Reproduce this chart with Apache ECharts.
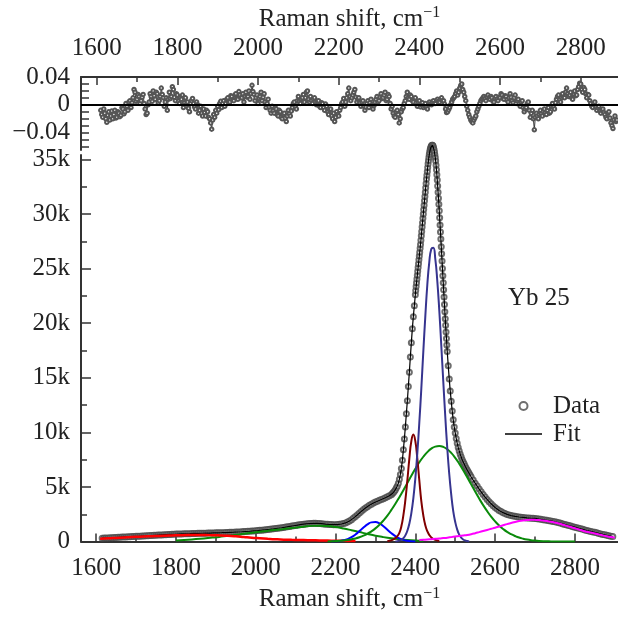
<!DOCTYPE html>
<html><head><meta charset="utf-8">
<script src="https://cdn.jsdelivr.net/npm/echarts@6/dist/echarts.min.js"></script>
<style>html,body{margin:0;padding:0;background:#fff}#c{width:618px;height:617px}</style>
</head><body><div id="c"></div>
<script>
// ---------- measured data (intensity in thousands of counts) ----------
const dataX = [
1615,1620,1625,1630,1635,1640,1645,1650,1655,1660,
1665,1670,1675,1680,1685,1690,1695,1700,1705,1710,
1715,1720,1725,1730,1735,1740,1745,1750,1755,1760,
1765,1770,1775,1780,1785,1790,1795,1800,1805,1810,
1815,1820,1825,1830,1835,1840,1845,1850,1855,1860,
1865,1870,1875,1880,1885,1890,1895,1900,1905,1910,
1915,1920,1925,1930,1935,1940,1945,1950,1955,1960,
1965,1970,1975,1980,1985,1990,1995,2000,2005,2010,
2015,2020,2025,2030,2035,2040,2045,2050,2055,2060,
2065,2070,2075,2080,2085,2090,2095,2100,2105,2110,
2115,2120,2125,2130,2135,2140,2145,2150,2155,2160,
2165,2170,2175,2180,2185,2190,2195,2200,2205,2210,
2215,2220,2225,2230,2235,2240,2245,2250,2255,2260,
2265,2270,2275,2280,2285,2290,2295,2300,2305,2310,
2315,2320,2325,2330,2335,2340,
2342.5,2345,2347.5,2350,2352.5,2355,2357.5,2360,2362.5,2365,2367.5,2370,2372.5,2375,2377.5,2380,2382.5,2385,2387.5,2390,2392.5,2395,2397.5,
2400,2401,2402,2403,2404,2405,2406,2407,2408,2409,
2410,2411,2412,2413,2414,2415,2416,2417,2418,2419,
2420,2421,2422,2423,2424,2425,2426,2427,2428,2429,
2430,2431,2432,2433,2434,2435,2436,2437,2438,2439,
2440,2441,2442,2443,2444,2445,2446,2447,2448,2449,
2450,2451,2452,2453,2454,2455,2456,2457,2458,2459,
2460,2461,2462,2463,2464,2465,2466,2467,2468,2469,
2470,2471,2472,2473,2474,2475,2476,2477,2478,2479,
2480,
2482.5,2485,2487.5,2490,2492.5,2495,2497.5,2500,2502.5,2505,2507.5,2510,2512.5,2515,2517.5,2520,2522.5,2525,2527.5,2530,2532.5,2535,2537.5,2540,
2545,2550,2555,2560,2565,2570,2575,2580,2585,2590,
2595,2600,2605,2610,2615,2620,2625,2630,2635,2640,
2645,2650,2655,2660,2665,2670,2675,2680,2685,2690,
2695,2700,2705,2710,2715,2720,2725,2730,2735,2740,
2745,2750,2755,2760,2765,2770,2775,2780,2785,2790,
2795,2800,2805,2810,2815,2820,2825,2830,2835,2840,
2845,2850,2855,2860,2865,2870,2875,2880,2885,2890,
2895];
const dataY = [
0.31,0.32,0.33,0.34,0.35,0.36,0.37,0.38,0.39,0.40,
0.41,0.42,0.43,0.44,0.45,0.46,0.47,0.48,0.49,0.50,
0.51,0.52,0.53,0.545,0.555,0.565,0.575,0.585,0.595,0.605,
0.615,0.625,0.635,0.645,0.655,0.665,0.675,0.685,0.69,0.70,
0.705,0.71,0.72,0.725,0.73,0.74,0.745,0.75,0.755,0.76,
0.765,0.77,0.775,0.78,0.785,0.79,0.795,0.80,0.805,0.81,
0.815,0.82,0.83,0.835,0.845,0.85,0.86,0.87,0.88,0.89,
0.90,0.915,0.925,0.94,0.95,0.965,0.98,0.995,1.01,1.03,
1.045,1.065,1.085,1.105,1.125,1.15,1.17,1.195,1.22,1.245,
1.27,1.30,1.33,1.36,1.39,1.42,1.45,1.48,1.51,1.54,
1.57,1.60,1.62,1.64,1.655,1.665,1.67,1.67,1.665,1.655,
1.64,1.62,1.60,1.58,1.565,1.555,1.55,1.55,1.56,1.58,
1.61,1.65,1.71,1.79,1.89,2.01,2.15,2.30,2.46,2.62,
2.78,2.93,3.07,3.20,3.32,3.43,3.53,3.62,3.70,3.78,
3.85,3.93,4.01,4.10,4.20,4.30,
4.4,4.5,4.62,4.75,4.92,5.1,5.35,5.7,6.15,6.7,7.45,8.4,9.4,10.5,11.7,12.9,14.2,15.5,16.9,18.2,19.5,20.6,21.6,
22.6,23.0,23.35,23.7,24.05,24.4,24.75,25.1,25.45,25.8,
26.15,26.5,26.85,27.2,27.6,28.0,28.4,28.8,29.2,29.6,
30.0,30.4,30.8,31.2,31.6,32.0,32.4,32.8,33.2,33.55,
33.9,34.25,34.6,34.9,35.2,35.45,35.65,35.85,36.0,36.1,
36.2,36.27,36.3,36.3,36.25,36.15,36.0,35.85,35.65,35.4,
35.15,34.85,34.45,34.05,33.6,33.1,32.55,32.0,31.45,30.9,
30.3,29.65,29.0,28.35,27.7,27.0,26.35,25.7,25.0,24.35,
23.7,23.05,22.4,21.7,21.05,20.4,19.8,19.2,18.6,18.0,
17.4,
16.1,14.9,13.8,12.85,11.95,11.15,10.5,9.95,9.45,9.0,8.62,8.3,8.0,7.75,7.5,7.3,7.1,6.9,6.72,6.56,6.4,6.24,6.08,5.92,
5.63,5.35,5.08,4.81,4.56,4.31,4.08,3.86,3.66,3.46,
3.29,3.12,2.98,2.85,2.75,2.65,2.57,2.49,2.43,2.38,
2.34,2.31,2.28,2.25,2.23,2.21,2.19,2.17,2.15,2.14,
2.13,2.12,2.10,2.07,2.04,2.01,1.98,1.95,1.92,1.89,
1.85,1.81,1.77,1.72,1.67,1.62,1.57,1.52,1.47,1.42,
1.37,1.32,1.27,1.22,1.17,1.12,1.07,1.02,0.97,0.93,
0.89,0.85,0.80,0.75,0.70,0.66,0.62,0.58,0.54,0.50,
0.47];

// ---------- fit components ----------
const redX = [1610,1630,1650,1670,1690,1710,1730,1750,1770,1790,1810,1830,1850,1870,1890,1910,1930,1950,1970,1990,2010,2030,2050,2070,2090,2110,2130,2150,2170,2190,2210,2230,2250];
const redY = [0.27,0.30,0.34,0.38,0.42,0.45,0.48,0.51,0.54,0.56,0.58,0.595,0.60,0.60,0.59,0.565,0.53,0.48,0.42,0.36,0.31,0.26,0.215,0.18,0.16,0.145,0.13,0.115,0.10,0.085,0.075,0.065,0.055];
const greenAX = [1800,1820,1840,1860,1880,1900,1920,1940,1960,1980,2000,2020,2040,2060,2080,2100,2120,2140,2160,2180,2200,2220,2240,2260,2280,2300,2320,2340,2360,2380,2400,2420];
const greenAY = [0.10,0.14,0.19,0.25,0.32,0.40,0.48,0.57,0.66,0.76,0.85,0.94,1.03,1.11,1.19,1.28,1.37,1.44,1.46,1.42,1.33,1.20,1.04,0.87,0.70,0.54,0.41,0.30,0.21,0.14,0.09,0.06];
const blueX = [2190,2200,2210,2220,2230,2240,2250,2260,2270,2280,2290,2300,2310,2320,2330,2340,2350,2360,2370,2380,2390,2400];
const blueY = [0.01,0.024,0.056,0.118,0.229,0.405,0.653,0.96,1.29,1.58,1.76,1.79,1.67,1.41,1.09,0.77,0.50,0.29,0.156,0.076,0.034,0.014];
const darkRedX = [2330,2335,2340,2345,2350,2355,2360,2365,2370,2375,2380,2385,2390,2395,2400,2405,2410,2415,2420,2425,2430,2435,2440,2445,2450,2455,2460];
const darkRedY = [0.05,0.08,0.12,0.2,0.32,0.5,0.8,1.4,2.4,3.8,5.6,7.6,9.2,9.8,9.2,7.6,5.6,3.7,2.4,1.5,0.95,0.6,0.38,0.25,0.16,0.1,0.06];
const navyX = [2350,2355,2360,2365,2370,2375,2380,2385,2390,2395,2400,2405,2410,2415,2420,2425,2430,2435,2440,2445,2450,2455,2460,2465,2470,2475,2480,2485,2490,2495,2500,2505,2510,2515,2520,2525,2530,2535];
const navyY = [0.02,0.04,0.09,0.17,0.32,0.57,0.99,1.64,2.6,3.96,5.78,8.1,10.9,14.0,17.4,20.6,23.5,25.6,26.8,26.9,25.9,23.9,21.2,18.0,14.7,11.5,8.6,6.2,4.3,2.8,1.8,1.1,0.64,0.36,0.19,0.1,0.05,0.02];
const greenBX = [2180,2190,2200,2210,2220,2230,2240,2250,2260,2270,2280,2290,2300,2310,2320,2330,2340,2350,2360,2370,2380,2390,2400,2410,2420,2430,2440,2450,2460,2470,2480,2490,2500,2510,2520,2530,2540,2550,2560,2570,2580,2590,2600,2610,2620,2630,2640,2650,2660,2670,2680,2690,2700,2710,2720,2730,2740,2750,2760,2770,2780,2790,2800];
const greenBY = [0.02,0.03,0.05,0.07,0.10,0.145,0.21,0.29,0.40,0.54,0.72,0.94,1.21,1.54,1.93,2.38,2.90,3.46,4.07,4.71,5.37,6.03,6.67,7.26,7.77,8.19,8.51,8.70,8.75,8.67,8.45,8.12,7.67,7.14,6.54,5.90,5.24,4.58,3.94,3.34,2.79,2.29,1.85,1.47,1.16,0.89,0.68,0.51,0.37,0.27,0.19,0.13,0.09,0.06,0.04,0.03,0.02,0.01,0.01,0.01,0,0,0];
const magentaX = [2410,2420,2430,2440,2450,2460,2470,2480,2490,2500,2510,2520,2530,2540,2550,2560,2570,2580,2590,2600,2610,2620,2630,2640,2650,2660,2670,2680,2690,2700,2710,2720,2730,2740,2750,2760,2770,2780,2790,2800,2810,2820,2830,2840,2850,2860,2870,2880,2890,2900];
const magentaY = [0.15,0.17,0.19,0.22,0.25,0.28,0.32,0.36,0.41,0.46,0.51,0.56,0.61,0.68,0.77,0.87,0.97,1.07,1.17,1.27,1.38,1.49,1.6,1.7,1.8,1.88,1.94,1.98,2.0,1.99,1.97,1.93,1.88,1.82,1.74,1.65,1.55,1.44,1.33,1.22,1.11,1.0,0.91,0.83,0.75,0.66,0.57,0.49,0.42,0.36];

// ---------- residuals ----------
const resX = [
1610,1612.5,1615,1617.5,1620,1622.5,1625,1627.5,1630,1632.5,1635,1637.5,1640,1642.5,1645,1647.5,1650,1652.5,1655,1657.5,
1660,1662.5,1665,1667.5,1670,1672.5,1675,1677.5,1680,1682.5,1685,1687.5,1690,1692.5,1695,1697.5,1700,1702.5,1705,1707.5,
1710,1712.5,1715,1717.5,1720,1722.5,1725,1727.5,1730,1732.5,1735,1737.5,1740,1742.5,1745,1747.5,1750,1752.5,1755,1757.5,
1760,1762.5,1765,1767.5,1770,1772.5,1775,1777.5,1780,1782.5,1785,1787.5,1790,1792.5,1795,1797.5,1800,1802.5,1805,1807.5,
1810,1812.5,1815,1817.5,1820,1822.5,1825,1827.5,1830,1832.5,1835,1837.5,1840,1842.5,1845,1847.5,1850,1852.5,1855,1857.5,
1860,1862.5,1865,1867.5,1870,1872.5,1875,1877.5,1880,1882.5,1885,1887.5,1890,1892.5,1895,1897.5,1900,1902.5,1905,1907.5,
1910,1912.5,1915,1917.5,1920,1922.5,1925,1927.5,1930,1932.5,1935,1937.5,1940,1942.5,1945,1947.5,1950,1952.5,1955,1957.5,
1960,1962.5,1965,1967.5,1970,1972.5,1975,1977.5,1980,1982.5,1985,1987.5,1990,1992.5,1995,1997.5,2000,2002.5,2005,2007.5,
2010,2012.5,2015,2017.5,2020,2022.5,2025,2027.5,2030,2032.5,2035,2037.5,2040,2042.5,2045,2047.5,2050,2052.5,2055,2057.5,
2060,2062.5,2065,2067.5,2070,2072.5,2075,2077.5,2080,2082.5,2085,2087.5,2090,2092.5,2095,2097.5,2100,2102.5,2105,2107.5,
2110,2112.5,2115,2117.5,2120,2122.5,2125,2127.5,2130,2132.5,2135,2137.5,2140,2142.5,2145,2147.5,2150,2152.5,2155,2157.5,
2160,2162.5,2165,2167.5,2170,2172.5,2175,2177.5,2180,2182.5,2185,2187.5,2190,2192.5,2195,2197.5,2200,2202.5,2205,2207.5,
2210,2212.5,2215,2217.5,2220,2222.5,2225,2227.5,2230,2232.5,2235,2237.5,2240,2242.5,2245,2247.5,2250,2252.5,2255,2257.5,
2260,2262.5,2265,2267.5,2270,2272.5,2275,2277.5,2280,2282.5,2285,2287.5,2290,2292.5,2295,2297.5,2300,2302.5,2305,2307.5,
2310,2312.5,2315,2317.5,2320,2322.5,2325,2327.5,2330,2332.5,2335,2337.5,2340,2342.5,2345,2347.5,2350,2352.5,2355,2357.5,
2360,2362.5,2365,2367.5,2370,2372.5,2375,2377.5,2380,2382.5,2385,2387.5,2390,2392.5,2395,2397.5,2400,2402.5,2405,2407.5,
2410,2412.5,2415,2417.5,2420,2422.5,2425,2427.5,2430,2432.5,2435,2437.5,2440,2442.5,2445,2447.5,2450,2452.5,2455,2457.5,
2460,2462.5,2465,2467.5,2470,2472.5,2475,2477.5,2480,2482.5,2485,2487.5,2490,2492.5,2495,2497.5,2500,2502.5,2505,2507.5,
2510,2512.5,2515,2517.5,2520,2522.5,2525,2527.5,2530,2532.5,2535,2537.5,2540,2542.5,2545,2547.5,2550,2552.5,2555,2557.5,
2560,2562.5,2565,2567.5,2570,2572.5,2575,2577.5,2580,2582.5,2585,2587.5,2590,2592.5,2595,2597.5,2600,2602.5,2605,2607.5,
2610,2612.5,2615,2617.5,2620,2622.5,2625,2627.5,2630,2632.5,2635,2637.5,2640,2642.5,2645,2647.5,2650,2652.5,2655,2657.5,
2660,2662.5,2665,2667.5,2670,2672.5,2675,2677.5,2680,2682.5,2685,2687.5,2690,2692.5,2695,2697.5,2700,2702.5,2705,2707.5,
2710,2712.5,2715,2717.5,2720,2722.5,2725,2727.5,2730,2732.5,2735,2737.5,2740,2742.5,2745,2747.5,2750,2752.5,2755,2757.5,
2760,2762.5,2765,2767.5,2770,2772.5,2775,2777.5,2780,2782.5,2785,2787.5,2790,2792.5,2795,2797.5,2800,2802.5,2805,2807.5,
2810,2812.5,2815,2817.5,2820,2822.5,2825,2827.5,2830,2832.5,2835,2837.5,2840,2842.5,2845,2847.5,2850,2852.5,2855,2857.5,
2860,2862.5,2865,2867.5,2870,2872.5,2875,2877.5,2880,2882.5,2885,2887.5,2890];
const resY = [
-0.008,-0.014,-0.018,-0.006,-0.012,-0.020,-0.025,-0.015,-0.010,-0.022,-0.016,-0.009,-0.020,-0.014,-0.008,-0.019,-0.018,-0.010,-0.012,-0.017,
-0.015,-0.004,-0.006,-0.013,-0.010,0.002,-0.002,-0.008,0.004,0.006,-0.004,0.003,0.010,0.022,0.018,0.005,0.008,0.015,0.012,0.002,
0.006,0.011,0.015,0.002,-0.006,-0.014,-0.012,0.000,0.004,0.016,0.012,0.005,0.020,0.013,0.008,0.018,0.016,0.003,0.006,0.012,
0.024,0.015,0.010,-0.002,0.004,0.010,-0.008,0.008,0.018,0.009,0.012,0.026,0.022,0.011,0.006,0.016,0.014,0.005,0.002,0.010,
0.008,0.014,-0.004,0.003,0.010,0.001,0.004,-0.005,-0.010,0.002,0.006,0.009,0.002,-0.003,-0.006,0.004,0.000,-0.012,-0.008,-0.002,
-0.012,-0.016,-0.006,-0.011,-0.016,-0.008,-0.010,-0.018,-0.020,-0.026,-0.035,-0.022,-0.014,-0.018,-0.008,-0.012,-0.002,-0.007,0.002,0.005,
-0.004,0.002,0.006,-0.002,0.002,0.008,0.010,0.003,0.004,0.013,0.012,0.007,0.006,0.014,0.016,0.009,0.008,0.019,0.014,0.010,
0.010,0.016,0.004,0.012,0.018,0.011,0.012,0.020,0.008,0.016,0.028,0.019,0.015,0.006,0.010,0.014,0.002,0.009,0.012,0.018,
0.006,0.011,0.016,0.004,-0.004,0.002,0.008,-0.003,-0.008,-0.012,-0.002,-0.009,-0.012,-0.004,-0.006,-0.014,-0.016,-0.008,-0.010,-0.018,
-0.020,-0.014,-0.012,-0.019,-0.024,-0.016,-0.008,-0.013,-0.016,-0.009,-0.004,0.002,0.004,-0.003,-0.006,0.006,0.012,0.005,0.002,0.008,
0.010,0.015,0.004,0.010,0.018,0.020,0.008,0.004,0.012,0.006,0.002,0.008,0.010,0.004,0.000,0.005,0.006,-0.002,-0.004,0.003,
0.002,-0.004,-0.008,0.001,-0.002,-0.010,-0.014,-0.008,-0.006,-0.016,-0.020,-0.012,-0.024,-0.018,-0.010,-0.014,-0.016,-0.008,-0.004,0.002,
0.004,0.009,-0.002,0.004,0.010,0.016,0.024,0.012,0.006,0.010,0.014,0.018,0.022,0.011,0.004,0.008,0.010,0.003,-0.002,0.004,
0.006,-0.002,-0.008,-0.003,0.002,0.006,-0.004,0.003,0.008,0.000,-0.006,-0.001,0.004,0.008,0.012,0.004,0.006,0.011,0.016,0.009,
0.010,0.014,0.018,0.006,0.008,0.015,0.012,0.002,-0.006,-0.002,-0.012,-0.016,-0.018,-0.010,-0.008,-0.014,-0.026,-0.020,-0.010,-0.006,
-0.004,0.002,0.006,0.012,0.018,0.010,0.008,0.014,0.012,0.006,0.004,0.009,0.010,0.003,-0.002,0.004,0.006,-0.003,0.000,0.003,
-0.004,-0.001,0.002,-0.003,-0.006,0.000,0.004,0.001,0.000,0.004,0.006,0.002,0.002,0.006,0.008,0.005,0.004,0.008,0.010,0.006,
0.006,0.001,-0.006,-0.011,-0.010,-0.007,-0.004,0.000,0.004,0.008,0.010,0.012,0.016,0.020,0.014,0.018,0.024,0.028,0.030,0.022,
0.018,0.012,0.006,-0.002,-0.008,-0.014,-0.018,-0.022,-0.024,-0.026,-0.022,-0.019,-0.016,-0.010,-0.006,-0.002,0.002,0.006,0.008,0.010,
0.012,0.009,0.006,0.011,0.014,0.010,0.008,0.012,0.010,0.005,0.004,0.009,0.012,0.008,0.006,0.011,0.010,0.016,0.014,0.009,
0.008,0.013,0.012,0.007,0.004,0.010,0.016,0.011,0.006,0.003,0.010,0.014,0.002,0.006,0.008,0.001,-0.002,0.004,0.006,-0.004,
-0.010,-0.006,-0.004,0.002,0.004,-0.008,-0.018,-0.012,-0.008,-0.020,-0.036,-0.018,-0.012,-0.016,-0.020,-0.014,-0.008,-0.013,-0.016,-0.010,
-0.006,-0.011,-0.014,-0.008,-0.004,-0.012,-0.010,-0.002,0.002,-0.003,-0.006,0.003,0.008,0.012,0.014,0.008,0.004,0.010,0.016,0.011,
0.010,0.018,0.024,0.016,0.012,0.014,0.018,0.010,0.008,0.015,0.020,0.013,0.014,0.022,0.026,0.031,0.030,0.022,0.018,0.025,
0.022,0.016,0.010,0.015,0.014,0.006,0.002,-0.002,-0.004,0.001,0.004,-0.003,-0.008,-0.004,-0.002,-0.009,-0.012,-0.008,-0.006,-0.011,
-0.014,-0.018,-0.020,-0.012,-0.010,-0.019,-0.026,-0.030,-0.034,-0.022,-0.016,-0.024,-0.022];

// ---------- ticks ----------
const xMajorTicks = [1600,1800,2000,2200,2400,2600,2800];
const xMinorTicks = [1700,1900,2100,2300,2500,2700];
const yMainMajor = [0,5,10,15,20,25,30,35];
const yMainMinor = [2.5,7.5,12.5,17.5,22.5,27.5,32.5];
const yResTicks = [-0.06,-0.05,-0.04,-0.03,-0.02,-0.01,0,0.01,0.02,0.03,0.04];
const yResLabels = [-0.04,0,0.04];

const FONT = 'Liberation Serif';
const FS = 25;
const TXT = '#222';
const AX = '#333';
const zip = (xs, ys) => xs.map((x, i) => [x, ys[i]]);

const axisName = '{a|Raman shift, cm}{s|\u22121}';
const nameRich = {
  a: {fontFamily: FONT, fontSize: FS, color: TXT, lineHeight: 28},
  s: {fontFamily: FONT, fontSize: 16, color: TXT, lineHeight: 16, verticalAlign: 'top'}
};

function xAxisMajor(grid, pos, min, max, margin, nameGap) {
  return {
    type: 'value', gridIndex: grid, position: pos, min: min, max: max,
    axisLine: {show: true, onZero: false, lineStyle: {color: AX, width: 2}},
    axisTick: {show: true, inside: true, length: 8, customValues: xMajorTicks, lineStyle: {color: AX, width: 1.5}},
    axisLabel: {show: true, customValues: xMajorTicks, margin: margin, fontFamily: FONT, fontSize: FS, color: TXT,
      formatter: v => String(v)},
    splitLine: {show: false},
    name: axisName, nameLocation: 'middle', nameGap: nameGap,
    nameTextStyle: {rich: nameRich}
  };
}
function xAxisMinor(grid, pos, min, max) {
  return {
    type: 'value', gridIndex: grid, position: pos, min: min, max: max,
    axisLine: {show: false, onZero: false},
    axisTick: {show: true, inside: true, length: 5, customValues: xMinorTicks, lineStyle: {color: AX, width: 1.5}},
    axisLabel: {show: false}, splitLine: {show: false}
  };
}

const option = {
  animation: false,
  backgroundColor: '#fff',
  grid: [
    {left: 81, right: 0, top: 77, height: 73},
    {left: 81, right: 0, top: 155, bottom: 68}
  ],
  xAxis: [
    xAxisMajor(0, 'top', 1561, 2892.5, 16, 44),
    xAxisMinor(0, 'top', 1561, 2892.5),
    xAxisMajor(1, 'bottom', 1562, 2908, 14, 43),
    xAxisMinor(1, 'bottom', 1562, 2908)
  ],
  yAxis: [
    {
      type: 'value', gridIndex: 0, min: -0.065, max: 0.04, position: 'left',
      axisLine: {show: true, onZero: false, lineStyle: {color: AX, width: 2}},
      axisTick: {show: true, inside: true, length: 8, customValues: yResTicks, lineStyle: {color: AX, width: 1.5}},
      axisLabel: {show: true, customValues: yResLabels, margin: 11, fontFamily: FONT, fontSize: FS, color: TXT,
        formatter: v => v === 0 ? '0' : (v < 0 ? '\u2212' : '') + Math.abs(v).toFixed(2)},
      splitLine: {show: false}
    },
    {
      type: 'value', gridIndex: 1, min: 0, max: 35.4, position: 'left',
      axisLine: {show: true, onZero: false, lineStyle: {color: AX, width: 2}},
      axisTick: {show: true, inside: true, length: 10, customValues: yMainMajor, lineStyle: {color: AX, width: 1.5}},
      axisLabel: {show: true, customValues: yMainMajor, margin: 11, fontFamily: FONT, fontSize: FS, color: TXT,
        formatter: v => v === 0 ? '0' : v + 'k'},
      splitLine: {show: false}
    },
    {
      type: 'value', gridIndex: 1, min: 0, max: 35.4, position: 'left',
      axisLine: {show: false, onZero: false},
      axisTick: {show: true, inside: true, length: 6, customValues: yMainMinor, lineStyle: {color: AX, width: 1.5}},
      axisLabel: {show: false}, splitLine: {show: false}
    }
  ],
  legend: {
    orient: 'vertical', left: 505, top: 393, itemWidth: 37, itemHeight: 8, itemGap: 2, padding: 0,
    textStyle: {fontFamily: FONT, fontSize: FS, color: TXT, lineHeight: 26, padding: [0, 0, 0, 6]},
    data: [
      {name: 'Data'},
      {name: 'Fit', icon: 'path://M0,0 L37,0 L37,1.6 L0,1.6 Z'}
    ]
  },
  graphic: [{
    type: 'text', left: 508, top: 286,
    style: {text: 'Yb 25', font: FS + 'px "Liberation Serif"', fill: TXT}
  }],
  series: [
    {
      name: 'Residual', type: 'line', xAxisIndex: 0, yAxisIndex: 0,
      data: zip(resX, resY), symbol: 'emptyCircle', symbolSize: 3.5, showSymbol: true,
      itemStyle: {color: '#555', borderWidth: 0.8},
      lineStyle: {color: '#111', width: 0.8},
      markLine: {silent: true, symbol: 'none', label: {show: false},
        lineStyle: {color: '#000', width: 2, type: 'solid'}, data: [{yAxis: 0}]},
      z: 3
    },
    {
      name: 'Data', type: 'scatter', xAxisIndex: 2, yAxisIndex: 1, clip: false,
      data: zip(dataX, dataY), symbol: 'emptyCircle', symbolSize: 5,
      itemStyle: {color: '#4a4a4a', borderWidth: 1}, z: 2
    },
    {
      name: 'Fit', type: 'line', xAxisIndex: 2, yAxisIndex: 1, clip: false,
      data: zip(dataX, dataY), symbol: 'none', showSymbol: false,
      lineStyle: {color: '#000', width: 1.2}, itemStyle: {color: '#000'}, z: 3
    },
    {name: 'c1', type: 'line', xAxisIndex: 2, yAxisIndex: 1, data: zip(greenAX, greenAY), smooth: true, symbol: 'none', lineStyle: {color: '#0a8a0a', width: 2}, z: 4},
    {name: 'c2', type: 'line', xAxisIndex: 2, yAxisIndex: 1, data: zip(redX, redY), smooth: true, symbol: 'none', lineStyle: {color: '#ff0000', width: 2.5}, z: 4},
    {name: 'c3', type: 'line', xAxisIndex: 2, yAxisIndex: 1, data: zip(blueX, blueY), smooth: true, symbol: 'none', lineStyle: {color: '#0000ff', width: 2}, z: 4},
    {name: 'c4', type: 'line', xAxisIndex: 2, yAxisIndex: 1, data: zip(greenBX, greenBY), smooth: true, symbol: 'none', lineStyle: {color: '#0a8a0a', width: 2}, z: 4},
    {name: 'c5', type: 'line', xAxisIndex: 2, yAxisIndex: 1, data: zip(darkRedX, darkRedY), smooth: true, symbol: 'none', lineStyle: {color: '#800000', width: 2}, z: 4},
    {name: 'c6', type: 'line', xAxisIndex: 2, yAxisIndex: 1, data: zip(navyX, navyY), smooth: true, symbol: 'none', lineStyle: {color: '#36348f', width: 2}, z: 4},
    {name: 'c7', type: 'line', xAxisIndex: 2, yAxisIndex: 1, data: zip(magentaX, magentaY), smooth: true, symbol: 'none', lineStyle: {color: '#ff00ff', width: 2}, z: 4}
  ]
};
echarts.init(document.getElementById('c'), null, {renderer: 'canvas'}).setOption(option);
</script>
</body></html>
